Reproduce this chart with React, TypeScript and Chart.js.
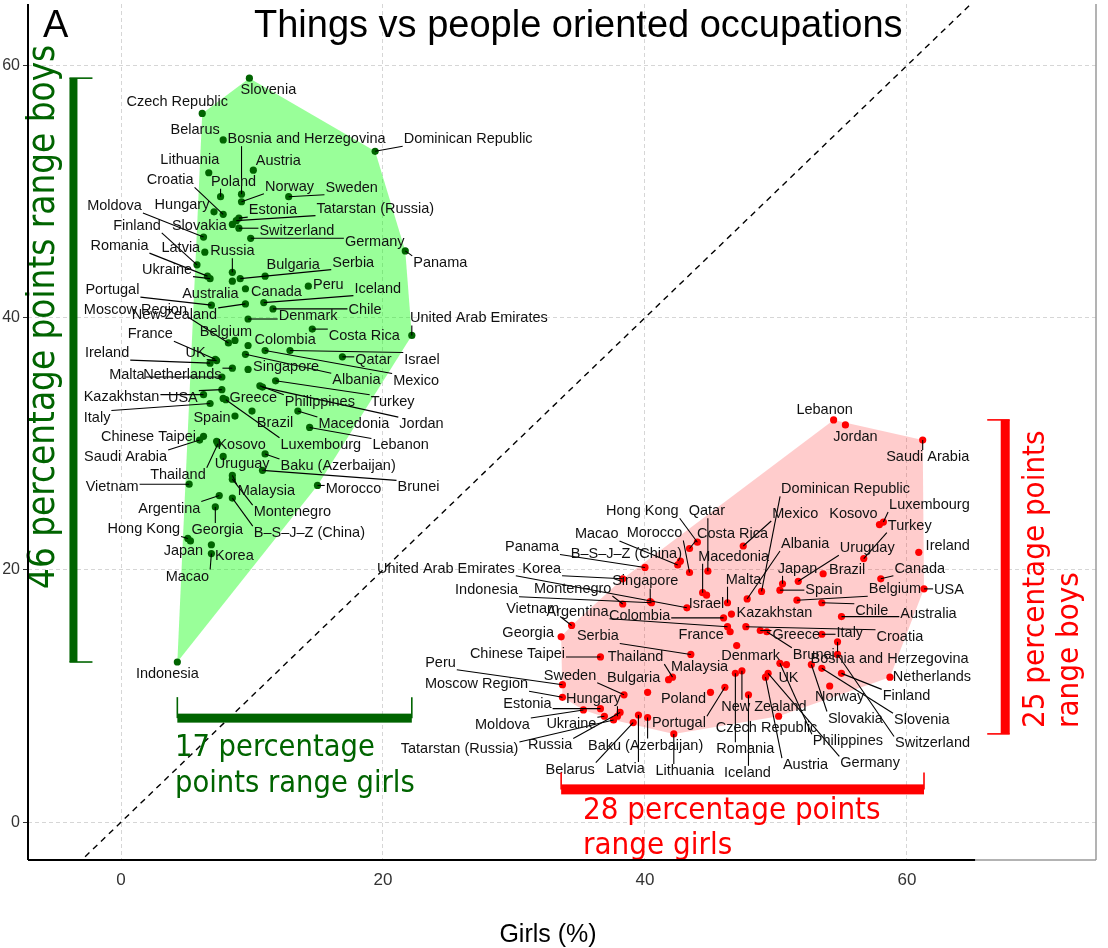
import { useEffect, useRef } from "react";
import { Chart, registerables } from "chart.js";

Chart.register(...registerables);

// ---- green group: share of boys in things-oriented jobs (y) vs girls (x)
const greenNames = [
  "Slovenia", "Czech Republic", "Belarus", "Bosnia and Herzegovina", "Dominican Republic", "Lithuania", "Austria", "Poland", "Norway", "Sweden",
  "Croatia", "Hungary", "Moldova", "Estonia", "Tatarstan (Russia)", "Slovakia", "Switzerland", "Germany", "Panama", "Finland",
  "Romania", "Latvia", "Russia", "Ukraine", "Bulgaria", "Serbia", "Portugal", "Australia", "Canada", "Peru",
  "Iceland", "Moscow Region", "New Zealand", "Chile", "Denmark", "Costa Rica", "United Arab Emirates", "Belgium", "France", "Colombia",
  "Ireland", "UK", "Qatar", "Israel", "Mexico", "Singapore", "Albania", "Netherlands", "Malta", "Turkey",
  "Philippines", "Jordan", "Kazakhstan", "USA", "Greece", "Italy", "Luxembourg", "Spain", "Brazil", "Macedonia",
  "Lebanon", "Chinese Taipei", "Saudi Arabia", "Kosovo", "Baku (Azerbaijan)", "Uruguay", "Thailand", "Malaysia", "Brunei", "Morocco",
  "Vietnam", "Argentina", "Montenegro", "Georgia", "B–S–J–Z (China)", "Hong Kong", "Japan", "Korea", "Macao", "Indonesia",
];
const greenX = [
  9.8, 6.2, 7.8, 9.2, 19.4, 6.7, 10.1, 7.6, 9.2, 12.8,
  7.8, 7.1, 6.3, 9.0, 8.8, 8.5, 9.0, 9.9, 21.7, 5.8,
  6.6, 6.4, 8.5, 6.8, 11.0, 9.1, 6.9, 8.5, 9.5, 14.3,
  10.9, 8.2, 9.5, 11.6, 9.7, 14.6, 22.2, 8.7, 7.2, 9.7,
  6.8, 7.3, 16.9, 12.9, 11.0, 9.7, 9.5, 8.5, 7.7, 11.8,
  10.6, 10.8, 6.3, 7.7, 7.8, 6.8, 8.0, 8.7, 10.0, 13.5,
  14.4, 6.3, 6.0, 7.3, 11.0, 7.8, 7.4, 8.5, 10.8, 15.0,
  5.2, 7.5, 8.5, 7.2, 8.5, 5.1, 5.3, 6.9, 6.9, 4.3,
];
const greenY = [
  59.0, 56.2, 54.1, 49.8, 53.2, 51.5, 51.7, 49.6, 49.2, 49.6,
  48.2, 48.4, 46.4, 47.9, 47.7, 47.4, 47.1, 46.3, 45.3, 44.2,
  43.3, 45.2, 43.6, 43.1, 43.3, 43.1, 41.0, 42.9, 42.3, 42.5,
  41.2, 38.0, 41.1, 40.7, 39.9, 39.1, 38.6, 38.2, 36.7, 37.8,
  36.4, 36.6, 36.9, 37.4, 37.4, 35.9, 37.1, 36.0, 35.3, 35.0,
  34.6, 34.5, 33.9, 34.3, 33.6, 33.2, 33.5, 32.2, 32.6, 32.6,
  31.3, 30.6, 30.3, 30.2, 29.2, 29.0, 30.0, 27.5, 27.9, 26.7,
  26.8, 25.9, 27.2, 25.0, 25.7, 22.5, 22.3, 22.0, 21.3, 12.7,
];

// ---- red group: people-oriented jobs
const redNames = [
  "Lebanon", "Jordan", "Saudi Arabia", "Luxembourg", "Kosovo", "Turkey", "Uruguay", "Ireland", "Brazil", "Japan",
  "Canada", "USA", "Belgium", "Spain", "Chile", "Australia", "Croatia", "Italy", "Greece", "Bosnia and Herzegovina",
  "Netherlands", "Brunei", "Denmark", "UK", "Norway", "Finland", "Slovakia", "Slovenia", "Switzerland", "Philippines",
  "Germany", "Austria", "New Zealand", "Czech Republic", "Romania", "Iceland", "Hong Kong", "Qatar", "Costa Rica", "Morocco",
  "Macao", "B–S–J–Z (China)", "Panama", "Mexico", "Dominican Republic", "Albania", "Macedonia", "Israel", "Malta", "Kazakhstan",
  "Colombia", "France", "Argentina", "Vietnam", "Georgia", "Serbia", "Chinese Taipei", "Thailand", "Malaysia", "Peru",
  "Moscow Region", "Sweden", "Bulgaria", "Estonia", "Hungary", "Moldova", "Ukraine", "Tatarstan (Russia)", "Russia", "Baku (Azerbaijan)",
  "Belarus", "Latvia", "Portugal", "Lithuania", "Poland", "Singapore", "Korea", "United Arab Emirates", "Indonesia", "Montenegro",
];
const redX = [
  54.4, 55.3, 61.2, 58.2, 57.9, 56.7, 51.7, 60.9, 53.6, 50.5,
  58.0, 61.3, 51.6, 50.3, 53.5, 55.0, 47.7, 53.5, 48.8, 54.7,
  58.7, 49.3, 47.0, 50.8, 54.1, 55.0, 52.7, 53.5, 54.7, 50.3,
  49.4, 49.2, 47.4, 50.2, 46.9, 47.9, 44.0, 44.8, 43.4, 43.4,
  42.5, 42.7, 40.0, 47.5, 48.9, 47.8, 44.4, 44.7, 46.3, 46.6,
  46.0, 46.5, 46.3, 34.4, 33.6, 43.5, 36.6, 42.1, 41.8, 33.7,
  33.7, 38.4, 40.2, 36.6, 37.9, 35.3, 36.9, 37.6, 38.1, 40.2,
  39.1, 39.5, 46.1, 42.2, 45.0, 40.4, 38.3, 43.2, 40.5, 38.3,
];
const redY = [
  31.9, 31.5, 30.3, 23.8, 23.6, 20.9, 19.1, 21.4, 19.7, 18.9,
  19.3, 18.5, 17.6, 18.4, 17.4, 16.3, 15.5, 14.9, 15.2, 14.3,
  11.5, 15.1, 14.0, 12.5, 10.8, 11.8, 12.5, 12.2, 13.3, 12.6,
  11.8, 11.5, 12.0, 8.4, 11.8, 10.1, 22.2, 19.9, 21.7, 19.8,
  20.4, 20.7, 20.2, 21.9, 18.3, 17.7, 18.2, 18.0, 17.4, 16.5,
  16.2, 15.1, 15.5, 15.6, 14.7, 13.3, 13.1, 11.5, 11.3, 10.9,
  9.9, 10.1, 10.3, 9.0, 8.4, 8.9, 8.4, 8.1, 8.7, 8.3,
  7.9, 8.5, 10.7, 7.0, 10.3, 17.5, 19.3, 17.0, 17.4, 17.3,
];

// label placement (pixel offset of the label centre from its point), repel-style
const greenLabelOffsets: [number, number][] = [
  [19, 12], [-25, -11], [-28, -10], [65, -55], [93, -12], [-19, -13], [25, -9], [13, -15], [48, -15], [63, -9],
  [-53, -34], [-32, -7], [-89, -31], [34, -8], [139, -12], [-33, 2], [58, 3], [124, 4], [35, 12], [-60, -39],
  [-88, -30], [-24, -4], [0, -21], [-43, -9], [28, -11], [113, -16], [-99, -15], [-22, 13], [31, 3], [20, -1],
  [114, -14], [-93, -33], [-71, 11], [92, 1], [60, -3], [52, 7], [67, -17], [-9, -8], [-65, -25], [37, -5],
  [-103, -10], [-21, -8], [31, 3], [132, 9], [151, 30], [38, -2], [111, 26], [-50, 7], [-95, -2], [117, 21],
  [60, 16], [159, 37], [-82, 2], [-39, 8], [30, 0], [-113, 14], [95, 45], [-23, 2], [23, 12], [56, 13],
  [91, 18], [-55, 1], [-74, 17], [25, 4], [73, 12], [19, 8], [-40, 31], [34, 16], [156, 17], [36, 4],
  [-77, 3], [-50, 13], [60, 33], [2, 23], [77, 35], [-44, -9], [-7, 10], [23, 11], [-24, 23], [-10, 12],
];
const redLabelOffsets: [number, number][] = [
  [-9, -10], [10, 12], [5, 17], [46, -17], [-26, -11], [46, -33], [69, -33], [29, -6], [24, -4], [15, -15],
  [39, -10], [25, 1], [98, -11], [44, 0], [50, 8], [87, -3], [154, 10], [28, -1], [36, 5], [52, 17],
  [42, 0], [47, 23], [14, 10], [2, 13], [10, 11], [65, 23], [44, 54], [100, 52], [95, 89], [68, 78],
  [102, 90], [40, 88], [22, 36], [-12, 12], [10, 76], [-1, 78], [-55, -31], [-1, -60], [43, -15], [-35, -39],
  [-81, -31], [-54, -7], [-113, -20], [52, -32], [84, -102], [58, -55], [31, -36], [0, 9], [16, -23], [43, -1],
  [-84, -2], [-29, 3], [-150, -15], [-39, -16], [-33, -4], [-93, -18], [-83, -3], [-37, -20], [31, -13], [-122, -22],
  [-86, -13], [-54, -19], [-14, -14], [-73, -5], [-24, -17], [-81, 15], [-33, 8], [-154, 29], [-70, 33], [-2, 28],
  [-63, 47], [-13, 54], [-46, 36], [11, 37], [-27, 7], [-5, -20], [-81, -10], [-241, -39], [-165, -13], [-50, -15],
];

const xTicks = [0, 20, 40, 60];
const yTicks = [0, 20, 40, 60];
const diagonal = [-10, 80]; // y = x reference line

// where the range brackets sit
const greenBoysBarX = -3.63;
const greenGirlsBarY = 8.25;
const redGirlsBarY = 2.6;
const redBoysBarX = 67.5;

const SANS = '"Liberation Sans", Arial, sans-serif';
const COND = '"DejaVu Sans Condensed", "DejaVu Sans", sans-serif';
const GREEN = "#006400";
const RED = "#ff0000";

function convexHull(xs: number[], ys: number[]) {
  const pts = xs.map((x, i) => [x, ys[i]]).sort((a, b) => a[0] - b[0] || a[1] - b[1]);
  const cross = (o: number[], a: number[], b: number[]) =>
    (a[0] - o[0]) * (b[1] - o[1]) - (a[1] - o[1]) * (b[0] - o[0]);
  const lower: number[][] = [];
  for (const p of pts) {
    while (lower.length >= 2 && cross(lower[lower.length - 2], lower[lower.length - 1], p) <= 0) lower.pop();
    lower.push(p);
  }
  const upper: number[][] = [];
  for (let i = pts.length - 1; i >= 0; i--) {
    const p = pts[i];
    while (upper.length >= 2 && cross(upper[upper.length - 2], upper[upper.length - 1], p) <= 0) upper.pop();
    upper.push(p);
  }
  return lower.slice(0, -1).concat(upper.slice(0, -1));
}

const greenHull = convexHull(greenX, greenY);
const redHull = convexHull(redX, redY);

function drawLabels(ctx: CanvasRenderingContext2D, sx: any, sy: any, xs: number[], ys: number[], names: string[], offs: [number, number][]) {
  ctx.font = `14.5px ${SANS}`;
  const items = names.map((name, i) => {
    const px = sx.getPixelForValue(xs[i]);
    const py = sy.getPixelForValue(ys[i]);
    return { name, px, py, lx: px + offs[i][0], ly: py + offs[i][1], w: ctx.measureText(name).width };
  });
  ctx.strokeStyle = "#000";
  ctx.lineWidth = 1.1;
  for (const it of items) {
    const l = it.lx - it.w / 2 - 1, r = it.lx + it.w / 2 + 1;
    const t = it.ly - 7, b = it.ly + 7;
    const nx = Math.min(Math.max(it.px, l), r);
    const ny = Math.min(Math.max(it.py, t), b);
    if (Math.hypot(nx - it.px, ny - it.py) > 7) {
      ctx.beginPath();
      ctx.moveTo(it.px, it.py);
      ctx.lineTo(nx, ny);
      ctx.stroke();
    }
  }
  ctx.fillStyle = "#111";
  ctx.textAlign = "center";
  ctx.textBaseline = "middle";
  for (const it of items) ctx.fillText(it.name, it.lx, it.ly);
}

function upText(ctx: CanvasRenderingContext2D, text: string, x: number, y: number) {
  ctx.save();
  ctx.translate(x, y);
  ctx.rotate(-Math.PI / 2);
  ctx.textAlign = "left";
  ctx.textBaseline = "alphabetic";
  ctx.fillText(text, 0, 0);
  ctx.restore();
}

const overlay = {
  id: "overlay",
  beforeDatasetsDraw(chart: any) {
    const { ctx, chartArea: a, scales } = chart;
    const sx = scales.x, sy = scales.y;
    ctx.save();
    ctx.beginPath();
    ctx.rect(a.left, a.top, a.right - a.left, a.bottom - a.top);
    ctx.clip();
    const poly = (pts: number[][], color: string) => {
      ctx.beginPath();
      pts.forEach((p, i) => {
        const px = sx.getPixelForValue(p[0]);
        const py = sy.getPixelForValue(p[1]);
        if (i === 0) ctx.moveTo(px, py);
        else ctx.lineTo(px, py);
      });
      ctx.closePath();
      ctx.fillStyle = color;
      ctx.fill();
    };
    poly(greenHull, "rgba(0,255,0,0.4)");
    poly(redHull, "rgba(255,0,0,0.2)");
    ctx.restore();
  },
  afterDatasetsDraw(chart: any) {
    const { ctx, chartArea: a, scales } = chart;
    const sx = scales.x, sy = scales.y;
    ctx.save();

    drawLabels(ctx, sx, sy, greenX, greenY, greenNames, greenLabelOffsets);
    drawLabels(ctx, sx, sy, redX, redY, redNames, redLabelOffsets);

    // range brackets
    const gx1 = sx.getPixelForValue(Math.min(...greenX));
    const gx2 = sx.getPixelForValue(Math.max(...greenX));
    const gy1 = sy.getPixelForValue(Math.max(...greenY));
    const gy2 = sy.getPixelForValue(Math.min(...greenY));
    const rx1 = sx.getPixelForValue(Math.min(...redX));
    const rx2 = sx.getPixelForValue(Math.max(...redX));
    const ry1 = sy.getPixelForValue(Math.max(...redY));
    const ry2 = sy.getPixelForValue(Math.min(...redY));

    const seg = (x1: number, y1: number, x2: number, y2: number) => {
      ctx.beginPath();
      ctx.moveTo(x1, y1);
      ctx.lineTo(x2, y2);
      ctx.stroke();
    };
    ctx.lineWidth = 1.6;

    ctx.fillStyle = GREEN;
    ctx.strokeStyle = GREEN;
    const gbx = sx.getPixelForValue(greenBoysBarX);
    ctx.fillRect(gbx - 4, gy1, 8, gy2 - gy1);
    seg(gbx - 4, gy1, gbx + 19, gy1);
    seg(gbx - 4, gy2, gbx + 19, gy2);
    const gby = sy.getPixelForValue(greenGirlsBarY);
    ctx.fillRect(gx1, gby - 4.5, gx2 - gx1, 9);
    seg(gx1, gby, gx1, gby - 21);
    seg(gx2, gby, gx2, gby - 21);

    ctx.fillStyle = RED;
    ctx.strokeStyle = RED;
    const rby = sy.getPixelForValue(redGirlsBarY);
    ctx.fillRect(rx1, rby - 5, rx2 - rx1, 10);
    seg(rx1, rby, rx1, rby - 17);
    seg(rx2, rby, rx2, rby - 17);
    const rbx = sx.getPixelForValue(redBoysBarX);
    ctx.fillRect(rbx - 4.5, ry1, 9, ry2 - ry1);
    seg(rbx + 4.5, ry1, rbx - 18, ry1);
    seg(rbx + 4.5, ry2, rbx - 18, ry2);

    // bracket captions
    ctx.textAlign = "left";
    ctx.textBaseline = "alphabetic";
    ctx.fillStyle = GREEN;
    ctx.font = `36.5px ${COND}`;
    upText(ctx, "46 percentage points range boys", 54, 589);
    ctx.font = `30.5px ${COND}`;
    ctx.textAlign = "left";
    ctx.fillText("17 percentage", 175, 756);
    ctx.fillText("points range girls", 175, 792);
    ctx.fillStyle = RED;
    ctx.font = `31px ${COND}`;
    ctx.fillText("28 percentage points", 583, 819);
    ctx.fillText("range girls", 583, 854);
    upText(ctx, "25 percentage points", 1044, 728);
    upText(ctx, "range boys", 1078, 728);

    // titles
    ctx.fillStyle = "#000";
    ctx.font = `38px ${SANS}`;
    ctx.textAlign = "left";
    ctx.fillText("A", 43, 37);
    ctx.fillText("Things vs people oriented occupations", 254, 37);
    ctx.font = `25px ${SANS}`;
    ctx.textAlign = "center";
    ctx.textBaseline = "middle";
    ctx.fillText("Girls (%)", 548, 935);

    // frame
    ctx.strokeStyle = "#9a9a9a";
    ctx.lineWidth = 1.5;
    seg(a.right, a.top, a.right, a.bottom);
    seg(a.left, a.bottom, a.right, a.bottom);
    ctx.strokeStyle = "#000";
    ctx.lineWidth = 2;
    seg(a.left, a.top, a.left, a.bottom);
    seg(a.left, a.bottom, sx.getPixelForValue(65.2), a.bottom);
    ctx.restore();
  },
};

export default function App() {
  const canvasRef = useRef<HTMLCanvasElement>(null);
  const chartRef = useRef<Chart | null>(null);

  useEffect(() => {
    document.body.style.margin = "0";
    if (!canvasRef.current) return;
    chartRef.current?.destroy();
    chartRef.current = new Chart(canvasRef.current, {
      type: "scatter",
      data: {
        datasets: [
          {
            type: "line",
            data: diagonal.map((v) => ({ x: v, y: v })),
            borderColor: "#000",
            borderWidth: 1.4,
            borderDash: [6, 5],
            pointRadius: 0,
            fill: false,
            order: 3,
          } as any,
          {
            data: greenX.map((x, i) => ({ x, y: greenY[i] })),
            backgroundColor: GREEN,
            borderWidth: 0,
            pointRadius: 3.6,
            order: 1,
          },
          {
            data: redX.map((x, i) => ({ x, y: redY[i] })),
            backgroundColor: RED,
            borderWidth: 0,
            pointRadius: 3.6,
            order: 1,
          },
        ],
      },
      options: {
        responsive: false,
        animation: false,
        layout: { padding: { left: 0, right: 12, top: 0, bottom: 0 } },
        plugins: { legend: { display: false }, tooltip: { enabled: false } },
        scales: {
          x: {
            type: "linear",
            min: -7.1,
            max: 74.43,
            afterBuildTicks: (s: any) => {
              s.ticks = xTicks.map((v) => ({ value: v }));
            },
            afterFit: (s: any) => {
              s.height = 88;
              s.paddingLeft = 0;
              s.paddingRight = 0;
            },
            grid: { color: "#d6d6d6", lineWidth: 1, drawTicks: false },
            border: { display: false, dash: [4, 3] },
            ticks: { color: "#333", font: { size: 17, family: SANS }, padding: 10, maxRotation: 0 },
          },
          y: {
            type: "linear",
            min: -3.0,
            max: 64.88,
            afterBuildTicks: (s: any) => {
              s.ticks = yTicks.map((v) => ({ value: v }));
            },
            afterFit: (s: any) => {
              s.width = 28;
              s.paddingTop = 0;
              s.paddingBottom = 0;
            },
            grid: { color: "#d6d6d6", lineWidth: 1, tickLength: 5, tickColor: "#333" },
            border: { display: false, dash: [4, 3] },
            ticks: { color: "#333", font: { size: 16, family: SANS }, padding: 3 },
          },
        },
      },
      plugins: [overlay],
    });
    return () => chartRef.current?.destroy();
  }, []);

  return (
    <div style={{ position: "absolute", left: 0, top: 0, width: 1108, height: 948, background: "#fff" }}>
      <canvas
        ref={canvasRef}
        width={1108}
        height={948}
        role="img"
        aria-label="Scatter plot of things vs people oriented occupations, boys vs girls"
      />
    </div>
  );
}
